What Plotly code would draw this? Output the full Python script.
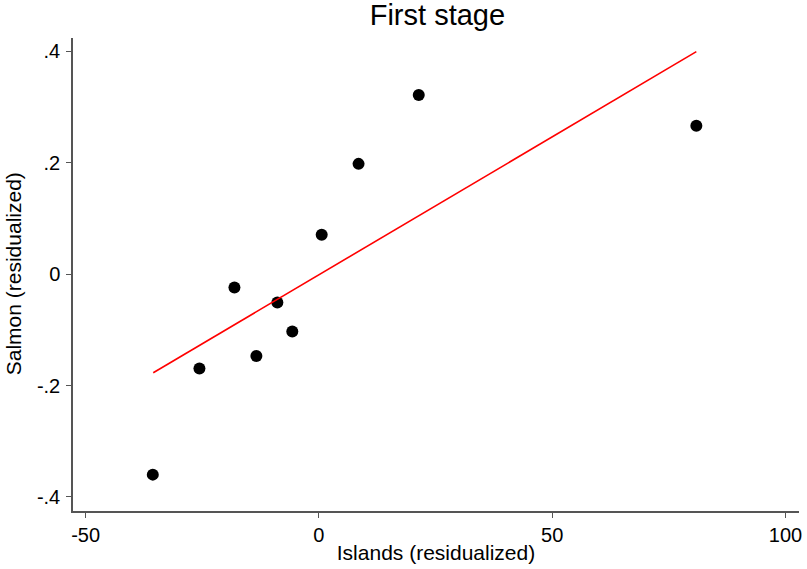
import plotly.graph_objects as go

islands = [-35.6, -25.6, -18.1, -13.4, -8.9, -5.7, 0.6, 8.5, 21.4, 80.9]
salmon = [-0.360, -0.1695, -0.024, -0.147, -0.051, -0.103, 0.0706, 0.198, 0.3217, 0.2665]

fit_x = [-35.5, 80.9]
fit_y = [-0.177, 0.3995]

x_ticks = [-50, 0, 50, 100]
x_tick_labels = ["-50", "0", "50", "100"]
y_ticks = [-0.4, -0.2, 0, 0.2, 0.4]
y_tick_labels = ["-.4", "-.2", "0", ".2", ".4"]

font = "Liberation Sans, Arial, sans-serif"

fig = go.Figure()
fig.add_trace(go.Scatter(x=islands, y=salmon, mode="markers",
                         marker=dict(color="black", size=12),
                         showlegend=False))
fig.add_trace(go.Scatter(x=fit_x, y=fit_y, mode="lines",
                         line=dict(color="red", width=1.6),
                         showlegend=False))

axis_common = dict(showgrid=False, zeroline=False, showline=True,
                   linecolor="#555555", linewidth=1.5,
                   ticks="outside", ticklen=5, tickcolor="#555555", tickwidth=1.2,
                   tickfont=dict(family=font, size=20, color="black"))

W, H = 807, 569
ML, MR, MT, MB = 73, 5, 38, 58
plot_w = W - ML - MR
plot_h = H - MT - MB

fig.update_layout(
    width=W, height=H,
    margin=dict(l=ML, r=MR, t=MT, b=MB),
    paper_bgcolor="white", plot_bgcolor="white",
    title=dict(text="First stage", x=0.542, xanchor="center", y=0.9736, yanchor="middle",
               font=dict(family=font, size=29, color="black")),
    xaxis=dict(range=[-52.7, 102.9], tickvals=x_ticks, ticktext=x_tick_labels,
               title=dict(text="Islands (residualized)", font=dict(family=font, size=21, color="black"), standoff=1),
               **axis_common),
    yaxis=dict(range=[-0.4253, 0.424], tickvals=y_ticks, ticktext=y_tick_labels,
               ticklabelstandoff=2,
               **axis_common),
    annotations=[dict(text="Salmon (residualized)", textangle=-90,
                      xref="paper", yref="paper",
                      x=(13 - ML) / plot_w, y=(H - MB - 274) / plot_h,
                      xanchor="center", yanchor="middle", showarrow=False,
                      font=dict(family=font, size=21, color="black"))],
)

fig.write_html("out.html", config={"displayModeBar": False},
               post_script="document.body.style.margin='0';")
